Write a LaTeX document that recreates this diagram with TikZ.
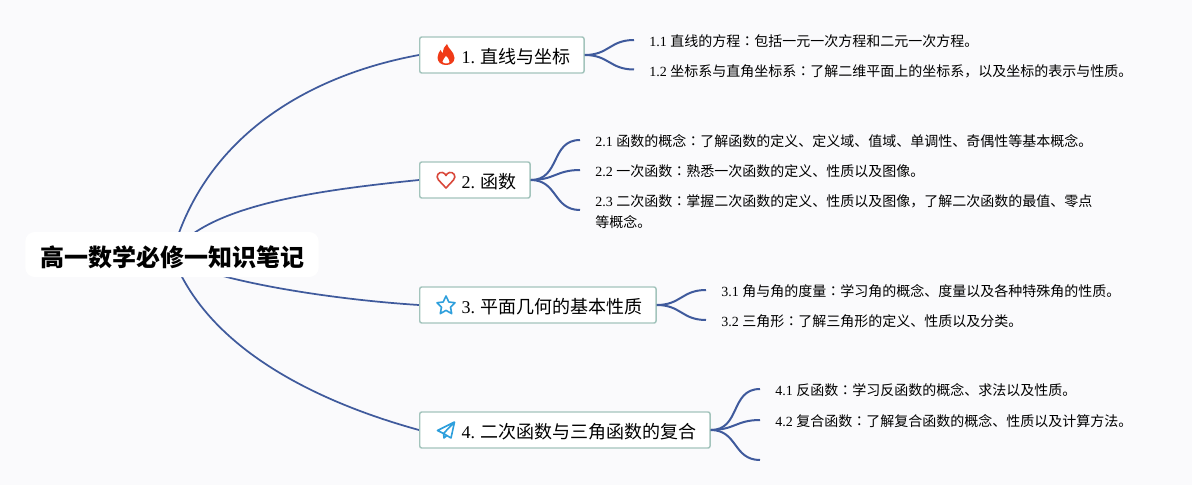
\documentclass[tikz,border=0pt]{standalone}
\usepackage{fontspec}
\setmainfont{Liberation Serif}
\newfontfamily\cjk{Noto Sans CJK SC}
\newfontfamily\cjkjp{Noto Sans CJK JP}
\newcommand{\mcolon}{{\cjkjp ：}}
\usetikzlibrary{positioning,backgrounds}
\definecolor{paper}{HTML}{FAFAFC}
\definecolor{branchblue}{HTML}{3F5A9C}
\definecolor{topicedge}{HTML}{A3C4BC}
\definecolor{flamered}{HTML}{F03A17}
\definecolor{heartred}{HTML}{D9483B}
\definecolor{iconblue}{HTML}{2E9FDC}

\begin{document}
\begin{tikzpicture}[
    x=0.75pt, y=-0.75pt,
    root/.style={rectangle, fill=white, rounded corners=7pt, minimum height=33.75pt, inner xsep=11pt, inner ysep=0pt, text height=20.5pt, font=\fontsize{18}{22}\selectfont\cjk\bfseries},
    topic/.style={rectangle, draw=topicedge, fill=white, line width=1.1pt, rounded corners=1.5pt, minimum height=27pt, inner xsep=10.5pt, inner ysep=0pt, text height=14pt, anchor=west, font=\fontsize{13.5}{16}\selectfont},
    leaf/.style={rectangle, inner xsep=11.25pt, inner ysep=0pt, text height=11.2pt, anchor=west, align=left, font=\fontsize{10.5}{15.75}\selectfont},
    trunk/.style={draw=branchblue, line width=1.3pt},
    branch/.style={draw=branchblue, line width=1.5pt, looseness=1.2},
    flameicon/.pic={
        \fill[flamered] (1,-11) .. controls (2,-6) and (8,-4) .. (8.5,3) .. controls (8.5,7.5) and (4.5,10) .. (0,10) .. controls (-5,10) and (-8.5,7) .. (-8.5,2.5) .. controls (-8.5,-1) and (-6.5,-3) .. (-5.5,-5) .. controls (-4.5,-3) and (-4,-2.5) .. (-3,-2) .. controls (-3,-6) and (-1.5,-9) .. (1,-11) -- cycle;
        \fill[white] (0,1) .. controls (1,3) and (4,4) .. (3.5,7) .. controls (3,9) and (-3,9) .. (-3.5,6.5) .. controls (-3.5,4.5) and (-1,3) .. (0,1) -- cycle;
    },
    hearticon/.pic={
        \draw[heartred, line width=1.2pt, line join=round] (0,8) -- (-7.5,0) .. controls (-11,-4) and (-7,-8.5) .. (-3.5,-7.5) .. controls (-2,-7) and (-0.5,-6) .. (0,-4.5) .. controls (0.5,-6) and (2,-7) .. (3.5,-7.5) .. controls (7,-8.5) and (11,-4) .. (7.5,0) -- cycle;
    },
    staricon/.pic={
        \draw[iconblue, line width=1.2pt, line join=round] (0,-9) -- (2.8,-3) -- (9,-2.3) -- (4.5,2.2) -- (5.7,8.6) -- (0,5.4) -- (-5.7,8.6) -- (-4.5,2.2) -- (-9,-2.3) -- (-2.8,-3) -- cycle;
    },
    planeicon/.pic={
        \draw[iconblue, line width=1.2pt, line join=round] (8.5,-8) -- (-8.5,0.5) -- (-2.5,3.5) -- (8.5,-8) -- (5,8) -- (-2.5,3.5) -- (-2,8) -- (0.8,5.5);
    }
]

% Background
\useasboundingbox (0,0) rectangle (1192,485);
\begin{scope}[on background layer]
\fill[paper] (0,0) rectangle (1192,485);
\end{scope}

% Root
\node[root] (root) at (172,254.5) {高一数学必修一知识笔记};

% Topics
\node[topic] (topica) at (419,55) {\hspace*{21pt}1.\hspace{3.6pt}{\cjk 直线与坐标}};
\node[topic] (topicb) at (419,180) {\hspace*{21pt}2.\hspace{3.6pt}{\cjk 函数}};
\node[topic] (topicc) at (419,305) {\hspace*{21pt}3.\hspace{3.6pt}{\cjk 平面几何的基本性质}};
\node[topic] (topicd) at (419,430) {\hspace*{21pt}4.\hspace{3.6pt}{\cjk 二次函数与三角函数的复合}};

% Topic Icons
\pic at (446,55) {flameicon};
\pic at (446,180) {hearticon};
\pic at (446,305) {staricon};
\pic at (446,430) {planeicon};

% Details
\node[leaf] (leafaa) at (634,40) {1.1 {\cjk 直线的方程\mcolon 包括一元一次方程和二元一次方程。}};
\node[leaf] (leafab) at (634,69.5) {1.2 {\cjk 坐标系与直角坐标系\mcolon 了解二维平面上的坐标系，以及坐标的表示与性质。}};
\node[leaf] (leafba) at (580,140) {2.1 {\cjk 函数的概念\mcolon 了解函数的定义、定义域、值域、单调性、奇偶性等基本概念。}};
\node[leaf] (leafbb) at (580,170) {2.2 {\cjk 一次函数\mcolon 熟悉一次函数的定义、性质以及图像。}};
\node[leaf, text height=27.5pt] (leafbc) at (580,210) {2.3 {\cjk 二次函数\mcolon 掌握二次函数的定义、性质以及图像，了解二次函数的最值、零点}\\{\cjk 等概念。}};
\node[leaf] (leafca) at (706,290) {3.1 {\cjk 角与角的度量\mcolon 学习角的概念、度量以及各种特殊角的性质。}};
\node[leaf] (leafcb) at (706,320) {3.2 {\cjk 三角形\mcolon 了解三角形的定义、性质以及分类。}};
\node[leaf] (leafda) at (760,389) {4.1 {\cjk 反函数\mcolon 学习反函数的概念、求法以及性质。}};
\node[leaf] (leafdb) at (760,420) {4.2 {\cjk 复合函数\mcolon 了解复合函数的概念、性质以及计算方法。}};
\coordinate (leafdc) at (760,460);

% Connections
\begin{scope}[on background layer]
\draw[trunk] (root.center) .. controls (205,135) and (310,75) .. (topica.west);
\draw[trunk] (root.center) .. controls (205,205) and (320,190) .. (topicb.west);
\draw[trunk] (root.center) .. controls (190,275) and (310,298) .. (topicc.west);
\draw[trunk] (root.center) .. controls (205,345) and (310,400) .. (topicd.west);
\end{scope}

\draw[branch] (topica.east) to[out=0,in=180] (leafaa.west);
\draw[branch] (topica.east) to[out=0,in=180] (leafab.west);
\draw[branch] (topicb.east) to[out=0,in=180] (leafba.west);
\draw[branch] (topicb.east) to[out=0,in=180] (leafbb.west);
\draw[branch] (topicb.east) to[out=0,in=180] (leafbc.west);
\draw[branch] (topicc.east) to[out=0,in=180] (leafca.west);
\draw[branch] (topicc.east) to[out=0,in=180] (leafcb.west);
\draw[branch] (topicd.east) to[out=0,in=180] (leafda.west);
\draw[branch] (topicd.east) to[out=0,in=180] (leafdb.west);
\draw[branch] (topicd.east) to[out=0,in=180] (leafdc);

\end{tikzpicture}
\end{document}
